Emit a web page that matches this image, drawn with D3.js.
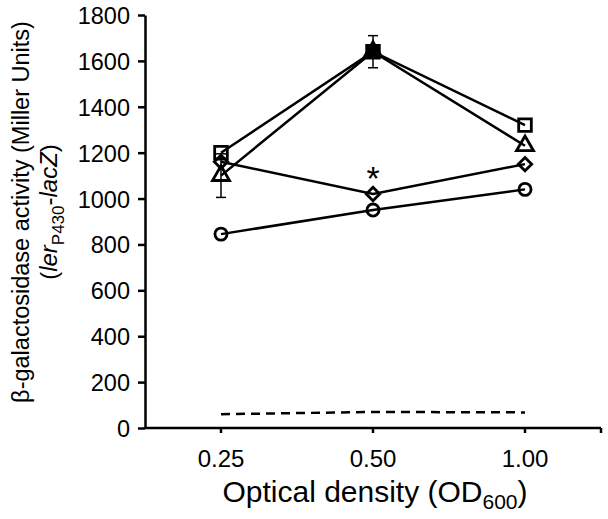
<!DOCTYPE html>
<html>
<head>
<meta charset="utf-8">
<script src="https://cdn.jsdelivr.net/npm/d3@7"></script>
<style>
  body { margin: 0; background: #fff; }
  svg text { font-family: "Liberation Sans", Arial, sans-serif; fill: #000; }
</style>
</head>
<body>
<div id="chart"></div>
<script>
var categories = ["0.25", "0.50", "1.00"];
var yTicks = [0, 200, 400, 600, 800, 1000, 1200, 1400, 1600, 1800];

var squareVals = [1200, 1640, 1320];
var squareErr = [0, 70, 0];
var triangleVals = [1100, 1640, 1230];
var triangleErr = [95, 0, 0];
var diamondVals = [1160, 1020, 1150];
var circleVals = [845, 950, 1040];
var controlVals = [60, 70, 68];

var series = [
  {name: "square", values: squareVals, err: squareErr},
  {name: "triangle", values: triangleVals, err: triangleErr},
  {name: "diamond", values: diamondVals, err: [0, 0, 0]},
  {name: "circle", values: circleVals, err: [0, 0, 0]}
];

drawChart();

function drawChart() {
  var width = 608, height = 519;
  var left = 145, right = 601, top = 15, bottom = 428;

  var svg = d3.select("#chart").append("svg")
    .attr("width", width)
    .attr("height", height);

  var x = d3.scaleBand().domain(categories).range([left, right]);
  var y = d3.scaleLinear().domain([0, 1800]).range([bottom, top]);
  var cx = function(i) { return x(categories[i]) + x.bandwidth() / 2; };

  // y axis
  var yAxis = svg.append("g")
    .attr("transform", "translate(" + left + ",0)")
    .call(d3.axisLeft(y).tickValues(yTicks).tickFormat(d3.format("d"))
      .tickSize(7).tickPadding(8).tickSizeOuter(0));
  yAxis.select(".domain").attr("stroke", "#000").attr("stroke-width", 2.5);
  yAxis.selectAll(".tick line").attr("stroke", "#000").attr("stroke-width", 2.5);
  yAxis.selectAll("text").style("font-size", "23.5px").attr("dy", "0.36em");

  // x axis
  svg.append("line")
    .attr("x1", left).attr("x2", right)
    .attr("y1", bottom).attr("y2", bottom)
    .attr("stroke", "#000").attr("stroke-width", 2.5);
  var xt = categories.map(function(c, i) { return cx(i); }).concat([right]);
  svg.selectAll(".xtick").data(xt).enter().append("line")
    .attr("x1", function(d) { return d; }).attr("x2", function(d) { return d; })
    .attr("y1", bottom).attr("y2", bottom + 5)
    .attr("stroke", "#000").attr("stroke-width", 2.5);
  svg.selectAll(".xlab").data(categories).enter().append("text")
    .attr("x", function(d, i) { return cx(i); })
    .attr("y", 467)
    .attr("text-anchor", "middle")
    .style("font-size", "24px")
    .text(function(d) { return d; });

  // axis titles
  var xt2 = svg.append("text")
    .attr("x", 375).attr("y", 502)
    .attr("text-anchor", "middle")
    .style("font-size", "30px");
  xt2.append("tspan").text("Optical density (OD");
  xt2.append("tspan").attr("dy", 7).style("font-size", "21px").text("600");
  xt2.append("tspan").attr("dy", -7).text(")");

  var yt = svg.append("g").attr("transform", "translate(29,212) rotate(-90)");
  yt.append("text").attr("text-anchor", "middle").style("font-size", "23.5px")
    .text("\u03B2-galactosidase activity (Miller Units)");
  var t2 = yt.append("text").attr("y", 28).attr("text-anchor", "middle").style("font-size", "24px");
  t2.append("tspan").text("(");
  t2.append("tspan").style("font-style", "italic").text("ler");
  t2.append("tspan").attr("dy", 7).style("font-size", "17px").text("P430");
  t2.append("tspan").attr("dy", -7).text("-");
  t2.append("tspan").style("font-style", "italic").text("lacZ");
  t2.append("tspan").text(")");

  // dashed control line
  var line = d3.line().x(function(d, i) { return cx(i); }).y(function(d) { return y(d); });
  svg.append("path")
    .attr("d", line(controlVals))
    .attr("fill", "none").attr("stroke", "#000").attr("stroke-width", 2.5)
    .attr("stroke-dasharray", "9,6");

  // series lines
  series.forEach(function(s) {
    svg.append("path")
      .attr("d", line(s.values))
      .attr("fill", "none").attr("stroke", "#000").attr("stroke-width", 2.5);
  });

  // error bars
  series.forEach(function(s) {
    s.values.forEach(function(v, i) {
      var e = s.err[i];
      if (!e) return;
      var g = svg.append("g").attr("stroke", "#000").attr("stroke-width", 1.5);
      g.append("line").attr("x1", cx(i)).attr("x2", cx(i)).attr("y1", y(v - e)).attr("y2", y(v + e));
      [v - e, v + e].forEach(function(w) {
        g.append("line").attr("x1", cx(i) - 5).attr("x2", cx(i) + 5).attr("y1", y(w)).attr("y2", y(w));
      });
    });
  });

  // markers (diamond = square turned 45 degrees)
  var sym = {
    square: d3.symbol().type(d3.symbolSquare).size(160),
    triangle: d3.symbol().type(d3.symbolTriangle).size(125),
    diamond: d3.symbol().type(d3.symbolSquare).size(90),
    circle: d3.symbol().type(d3.symbolCircle).size(115)
  };
  series.forEach(function(s) {
    var rot = s.name === "diamond" ? " rotate(45)" : "";
    svg.selectAll(".m-" + s.name).data(s.values).enter().append("path")
      .attr("transform", function(d, i) { return "translate(" + cx(i) + "," + y(d) + ")" + rot; })
      .attr("d", sym[s.name]())
      .attr("fill", function(d, i) { return (s.name === "square" && i === 1) ? "#000" : "none"; })
      .attr("stroke", "#000").attr("stroke-width", 2.8);
  });

  // significance mark
  svg.append("text")
    .attr("x", cx(1)).attr("y", y(diamondVals[1]) - 4)
    .attr("text-anchor", "middle")
    .style("font-size", "34px")
    .text("*");
}
</script>
</body>
</html>
